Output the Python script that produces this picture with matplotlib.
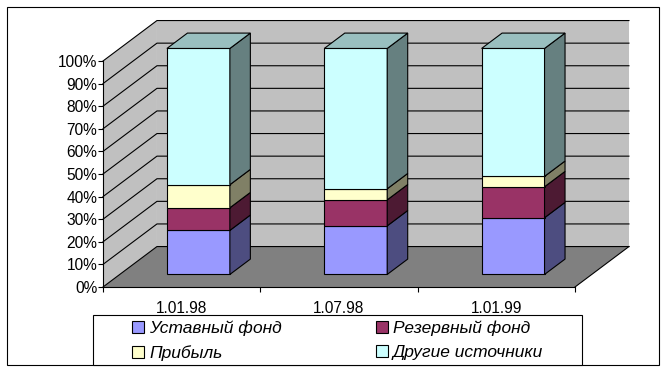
import matplotlib
matplotlib.use("Agg")
import numpy as np
import matplotlib.pyplot as plt
from matplotlib.patches import Polygon, Rectangle, Patch

dates = ["1.01.98", "1.07.98", "1.01.99"]
names = ["Уставный фонд", "Резервный фонд", "Прибыль", "Другие источники"]
ustavny = [19.5, 21.5, 25.1]
rezervny = [10.0, 11.5, 13.7]
pribyl = [10.2, 4.9, 4.6]
drugie = [60.3, 62.1, 56.6]
y_ticks = [0, 10, 20, 30, 40, 50, 60, 70, 80, 90, 100]
y_labels = ["0%", "10%", "20%", "30%", "40%", "50%", "60%", "70%", "80%", "90%", "100%"]

colors = ["#9999FF", "#993366", "#FFFFCC", "#CCFFFF"]

plt.rcParams["font.family"] = ["Liberation Sans", "DejaVu Sans"]


def shade(c, f):
    rgb = matplotlib.colors.to_rgb(c)
    return tuple(v * f for v in rgb)


# oblique 3d look: depth offset in data units
DX = 0.343
DY = 17.9
z0, z1 = 0.31, 0.69
W = 0.4
lw = 0.8

fig = plt.figure(figsize=(6.68, 3.73), dpi=100)
fig.patches.append(Rectangle((7 / 668, 8 / 373), 652 / 668, 358 / 373, transform=fig.transFigure,
                             fill=False, edgecolor="black", lw=lw))
ax = fig.add_axes([103 / 668, 86 / 373, 472 / 668, 226 / 373])
ax.set_xlim(-0.5, 2.5)
ax.set_ylim(0, 100)
ax.patch.set_visible(False)

# walls and floor
ax.add_patch(Polygon([(-0.5 + DX, DY), (2.5 + DX, DY), (2.5 + DX, 100 + DY), (-0.5 + DX, 100 + DY)],
                     fc="#C0C0C0", ec="none", clip_on=False, zorder=0.5))
ax.add_patch(Polygon([(-0.5, 0), (-0.5, 100), (-0.5 + DX, 100 + DY), (-0.5 + DX, DY)],
                     fc="#C0C0C0", ec="none", clip_on=False, zorder=0.5))
ax.add_patch(Polygon([(-0.5, 0), (2.5, 0), (2.5 + DX, DY), (-0.5 + DX, DY)],
                     fc="#808080", ec="none", clip_on=False, zorder=0.5))
for v in y_ticks:
    ax.plot([-0.5, -0.5 + DX, 2.5 + DX], [v, v + DY, v + DY], color="black", lw=lw, clip_on=False, zorder=1)
ax.plot([2.5, 2.5 + DX], [0, DY], color="black", lw=lw, clip_on=False, zorder=1)

# stacked bars
x = np.arange(len(dates))
bottom = np.zeros(len(dates))
for vals, c in zip([ustavny, rezervny, pribyl, drugie], colors):
    vals = np.array(vals)
    ax.bar(x + z0 * DX, vals, W, bottom=bottom + z0 * DY, color=c, edgecolor="black", lw=lw,
           clip_on=False, zorder=3)
    for i in range(len(x)):
        xr = x[i] + W / 2
        b, t = bottom[i], bottom[i] + vals[i]
        ax.add_patch(Polygon([(xr + z0 * DX, b + z0 * DY), (xr + z1 * DX, b + z1 * DY),
                              (xr + z1 * DX, t + z1 * DY), (xr + z0 * DX, t + z0 * DY)],
                             fc=shade(c, 0.5), ec="black", lw=lw, clip_on=False, zorder=3))
    bottom += vals
for i in range(len(x)):
    xl, xr, t = x[i] - W / 2, x[i] + W / 2, bottom[i]
    ax.add_patch(Polygon([(xl + z0 * DX, t + z0 * DY), (xr + z0 * DX, t + z0 * DY),
                          (xr + z1 * DX, t + z1 * DY), (xl + z1 * DX, t + z1 * DY)],
                         fc=shade(colors[3], 0.75), ec="black", lw=lw, clip_on=False, zorder=3))

ax.set_yticks(y_ticks, y_labels)
ax.tick_params(axis="y", direction="out", length=3.6, width=lw, pad=0.5, labelsize=11.2)
ax.set_xticks([-0.5, 0.5, 1.5, 2.5], ["", "", "", ""])
ax.set_xticks(x, dates, minor=True)
ax.tick_params(axis="x", which="major", direction="out", length=3.6, width=lw)
ax.tick_params(axis="x", which="minor", length=0, pad=10, labelsize=11.2)
for s in ["top", "right"]:
    ax.spines[s].set_visible(False)
for s in ["left", "bottom"]:
    ax.spines[s].set_linewidth(lw)

# legend
fig.patches.append(Rectangle((93 / 668, 8 / 373), 489 / 668, 50 / 373, transform=fig.transFigure,
                             fc="white", edgecolor="black", lw=lw))
handles = [Patch(facecolor=c, edgecolor="black", lw=lw) for c in colors]
order = [0, 2, 1, 3]
fig.legend([handles[k] for k in order], [names[k] for k in order], ncol=2, loc="center",
           bbox_to_anchor=(337.5 / 668, 1 - 340.5 / 373), frameon=False,
           prop={"style": "italic", "size": 12.5}, handlelength=0.7, handleheight=0.7,
           handletextpad=0.3, columnspacing=5.4, labelspacing=0.53, borderpad=0)

fig.savefig("out.png", dpi=100)
